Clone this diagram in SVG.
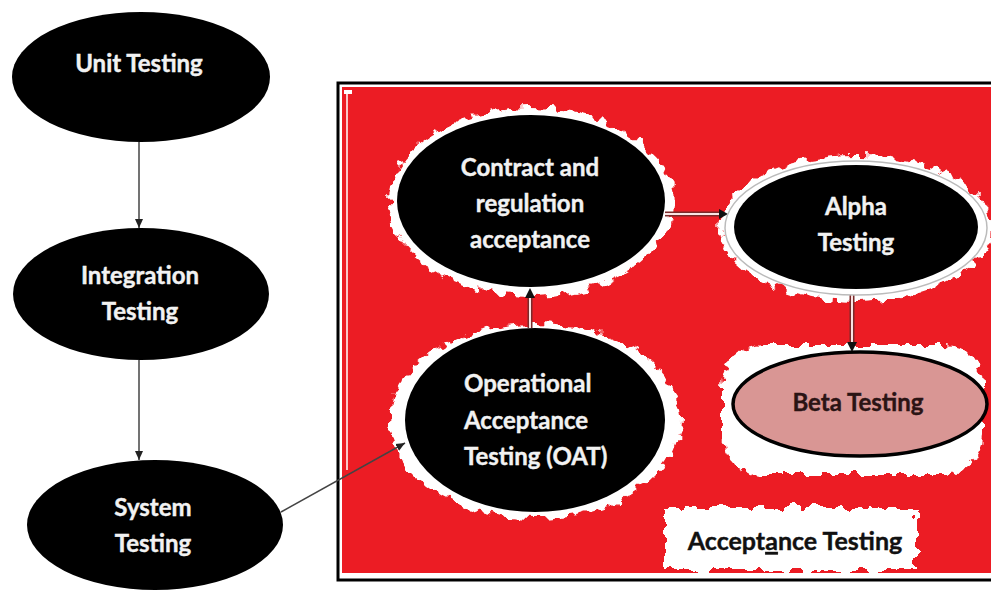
<svg xmlns="http://www.w3.org/2000/svg" width="991" height="592" viewBox="0 0 991 592">
<defs>
<style>
.dark{fill:#000;}
.lbl{font-family:Lato,"Liberation Sans",Arial,sans-serif;font-weight:bold;font-size:24px;fill:#f2f2f2;stroke:#f2f2f2;stroke-width:0.4;text-anchor:middle;}
.lbl-d{font-family:Lato,"Liberation Sans",Arial,sans-serif;font-weight:bold;font-size:24px;fill:#2b1414;stroke:#2b1414;stroke-width:0.4;text-anchor:middle;}
.left{text-anchor:start;}
.halo{fill:#fff;filter:url(#rough);}
.conn{stroke:#444;stroke-width:1.5;fill:none;}
.dbl-o{stroke:#7a2a2a;stroke-width:5;fill:none;}
.dbl-i{stroke:#fbe3e3;stroke-width:2;fill:none;}
</style>
<filter id="rough" x="-20%" y="-20%" width="140%" height="140%">
<feTurbulence type="fractalNoise" baseFrequency="0.09" numOctaves="2" seed="3" result="n"/>
<feDisplacementMap in="SourceGraphic" in2="n" scale="16" xChannelSelector="R" yChannelSelector="G"/>
</filter>
<marker id="ah" markerWidth="10" markerHeight="10" refX="9" refY="5" orient="auto" markerUnits="userSpaceOnUse">
<path d="M0,1 L9,5 L0,9 Z" fill="#222"/>
</marker>
</defs>
<rect width="991" height="592" fill="#fff"/>

<g id="acceptance-box">
<rect x="338" y="83" width="660" height="497" fill="#fff" stroke="#000" stroke-width="3"/>
<rect x="342" y="87" width="652" height="486" fill="#ec1c24"/>
<line x1="347" y1="93" x2="347" y2="470" stroke="#fff" stroke-width="1.5"/>
<rect x="344" y="90" width="8" height="4" fill="#fff"/>
</g>

<g id="halos">
<ellipse class="halo" cx="531" cy="202" rx="142" ry="94"/>
<ellipse class="halo" cx="535" cy="421" rx="145" ry="98"/>
<ellipse class="halo" cx="856" cy="228" rx="136" ry="73"/>
<rect class="halo" x="722" y="345" width="262" height="130" rx="40"/>
<rect class="halo" x="665" y="508" width="252" height="62"/>
</g>

<g id="connectors">
<line class="conn" x1="139" y1="142" x2="139" y2="228" marker-end="url(#ah)"/>
<line class="conn" x1="139" y1="360" x2="139" y2="460" marker-end="url(#ah)"/>
<line class="conn" x1="281" y1="512" x2="405" y2="443" marker-end="url(#ah)"/>
<line class="dbl-o" x1="665" y1="214" x2="721" y2="214"/>
<line class="dbl-i" x1="665" y1="214" x2="721" y2="214"/>
<path d="M719,209 L728,214 L719,219 Z" fill="#111"/>
<line class="dbl-o" x1="530" y1="328" x2="530" y2="296"/>
<line class="dbl-i" x1="530" y1="328" x2="530" y2="296"/>
<path d="M525,298 L530,288 L535,298 Z" fill="#111"/>
<line class="dbl-o" x1="852" y1="295" x2="852" y2="344"/>
<line class="dbl-i" x1="852" y1="295" x2="852" y2="344"/>
<path d="M847,342 L852,352 L857,342 Z" fill="#111"/>
</g>

<g id="unit-testing">
<ellipse class="dark" cx="141" cy="77" rx="129" ry="65"/>
<text class="lbl" x="139" y="72">Unit Testing</text>
</g>

<g id="integration-testing">
<ellipse class="dark" cx="141" cy="294" rx="128" ry="66"/>
<text class="lbl" x="140" y="284">Integration</text>
<text class="lbl" x="140" y="320">Testing</text>
</g>

<g id="system-testing">
<ellipse class="dark" cx="155" cy="525" rx="128" ry="65"/>
<text class="lbl" x="153" y="516">System</text>
<text class="lbl" x="153" y="552">Testing</text>
</g>

<g id="contract-regulation">
<ellipse class="dark" cx="531" cy="201" rx="134" ry="86"/>
<text class="lbl" x="530" y="176">Contract and</text>
<text class="lbl" x="530" y="212">regulation</text>
<text class="lbl" x="530" y="248">acceptance</text>
</g>

<g id="alpha-testing">
<ellipse cx="856" cy="228" rx="131" ry="67" fill="#fff" stroke="#bbb" stroke-width="1.5"/>
<ellipse class="dark" cx="856" cy="227" rx="122" ry="62"/>
<text class="lbl" x="856" y="215">Alpha</text>
<text class="lbl" x="856" y="251">Testing</text>
</g>

<g id="operational-acceptance">
<ellipse class="dark" cx="535" cy="420" rx="130" ry="92"/>
<text class="lbl left" x="464" y="392">Operational</text>
<text class="lbl left" x="464" y="429">Acceptance</text>
<text class="lbl left" x="464" y="465">Testing (OAT)</text>
</g>

<g id="beta-testing">
<ellipse cx="860" cy="404" rx="127" ry="52" fill="#d99694" stroke="#000" stroke-width="3.5"/>
<text class="lbl-d" x="858" y="411">Beta Testing</text>
</g>

<g id="acceptance-label">
<text class="lbl-d" x="795" y="550" style="font-size:25px;fill:#111;stroke:#111">Accept<tspan text-decoration="underline">a</tspan>nce Testing</text>
</g>
</svg>
